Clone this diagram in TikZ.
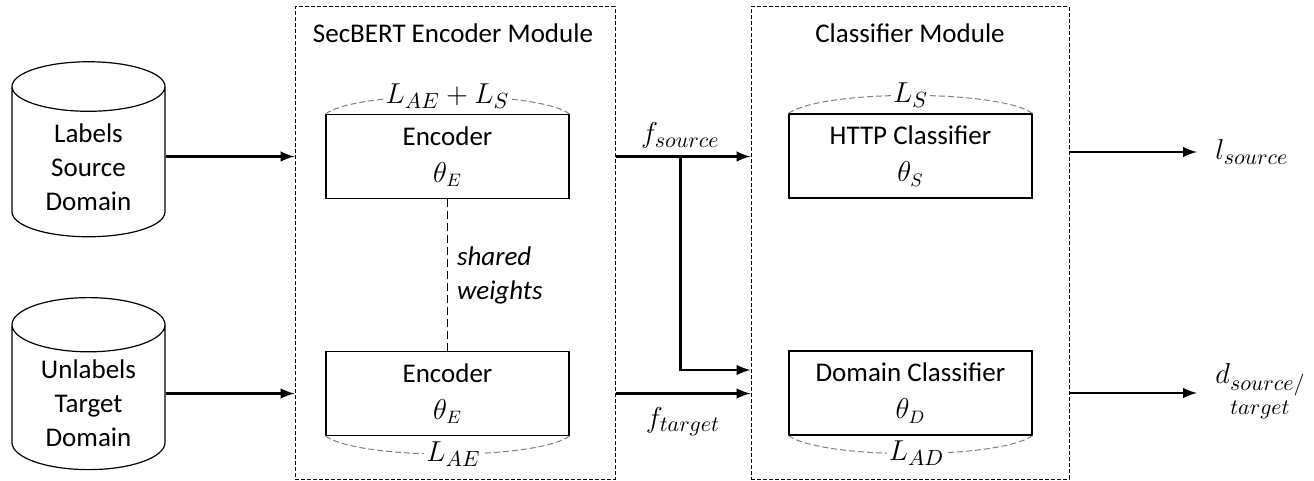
\documentclass[tikz,border=0pt]{standalone}
\usepackage{fontspec}
\setmainfont{Carlito}
\usetikzlibrary{shapes.geometric,calc}
\tikzset{
  blk/.style={draw,line width=0.6pt,minimum width=121.5pt,minimum height=42pt,align=center,font=\fontsize{13.5}{18.5}\selectfont},
  db/.style={draw,cylinder,shape border rotate=90,aspect=0.5,minimum width=76.5pt,minimum height=87.5pt,align=center,line width=0.6pt},
  modbox/.style={draw,dash pattern=on 2pt off 1pt,line width=0.5pt,minimum width=160pt,minimum height=236pt},
  loss/.style={draw=gray,dash pattern=on 3pt off 1.5pt,line width=0.5pt},
  losslbl/.style={fill=white,inner sep=1pt,font=\fontsize{15.5}{18}\selectfont},
  arr/.style={-latex,line width=1.4pt},
  mathlbl/.style={font=\fontsize{15.5}{18}\selectfont},
  outlbl/.style={anchor=west,inner xsep=9pt,mathlbl},
}
\begin{document}
\begin{tikzpicture}[x=0.5pt,y=-0.5pt,font=\fontsize{13.5}{17}\selectfont]
\useasboundingbox (0,0) rectangle (1314,481);
\node[db] (src) at (88.5,167) {Labels\\Source\\Domain};
\node[db,minimum height=86pt] (tgt) at (88.5,403) {Unlabels\\Target\\Domain};
\node[modbox] (encmod) at (455,243) {};
\node[modbox,minimum width=159pt] (clsmod) at (910,243) {};
\node (enctitle) at (453,33) {SecBERT Encoder Module};
\node (clstitle) at (910,33) {Classifier Module};
\node[blk] (encS) at (447.5,156.5) {Encoder\\$\theta_E$};
\node[blk] (encT) at (447.5,393.5) {Encoder\\$\theta_E$};
\node[blk] (httpc) at (910.5,156) {HTTP Classifier\\$\theta_S$};
\node[blk] (domc) at (910.5,393) {Domain Classifier\\$\theta_D$};
\draw[loss] (encS.north west) to[out=35,in=145,looseness=0.44] node[losslbl] {$L_{AE}+L_S$} (encS.north east);
\draw[loss] (encT.south west) to[out=-35,in=-145,looseness=0.44] node[losslbl,xshift=3pt] {$L_{AE}$} (encT.south east);
\draw[loss] (httpc.north west) to[out=35,in=145,looseness=0.44] node[losslbl] {$L_S$} (httpc.north east);
\draw[loss] (domc.south west) to[out=-35,in=-145,looseness=0.44] node[losslbl,xshift=3pt] {$L_{AD}$} (domc.south east);
\draw[dash pattern=on 4pt off 2pt,line width=0.5pt] (encS.south) -- (encT.south |- encT.north);
\node[anchor=west,align=left,font=\fontsize{13.5}{17}\selectfont\itshape] (shw) at (450,275) {shared\\weights};
\draw[arr] (src.east |- encS) -- (encS -| encmod.west);
\draw[arr] (tgt.east |- encT) -- (encT -| encmod.west);
\draw[arr] (encmod.east |- encS) -- node[above,pos=0.48,mathlbl] {$f_{source}$} (clsmod.west |- encS);
\coordinate (brk) at ($(encmod.east |- encS)!0.48!(clsmod.west |- encS)$);
\draw[arr] (brk) |- ($(clsmod.west |- domc)+(0,-23)$);
\draw[arr] (encmod.east |- encT) -- node[below=3pt,mathlbl] {$f_{target}$} (clsmod.west |- encT);
\node[outlbl] (lsrc) at (1197,152) {$l_{source}$};
\node[outlbl,align=center] (dst) at (1197,391) {$d_{source/}$\\[-5pt]$_{target}$};
\draw[arr] (clsmod.east |- lsrc) -- (lsrc.west);
\draw[arr] (clsmod.east |- domc) -- (domc -| dst.west);
\end{tikzpicture}
\end{document}
